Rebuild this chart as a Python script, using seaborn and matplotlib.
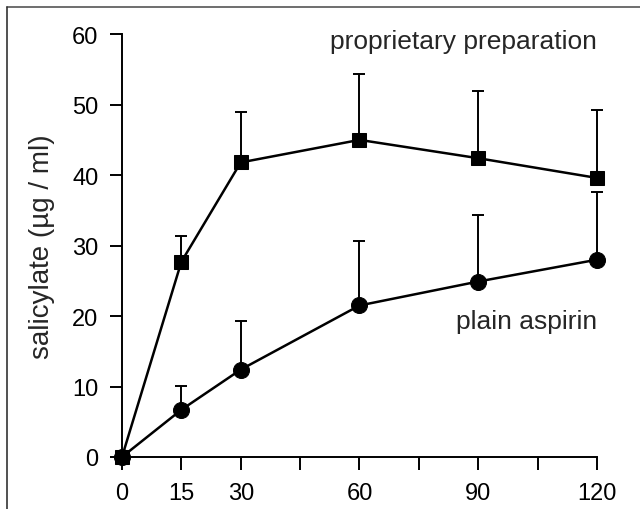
import matplotlib
matplotlib.use("Agg")
import matplotlib.pyplot as plt
import seaborn as sns
import numpy as np
import pandas as pd
from matplotlib.lines import Line2D

time = [0, 15, 30, 60, 90, 120]
prop = [0, 27.7, 41.8, 45.0, 42.4, 39.6]
prop_upper = [0, 31.3, 48.9, 54.3, 51.9, 49.2]
plain = [0, 6.7, 12.4, 21.5, 24.9, 28.0]
plain_upper = [0, 10.1, 19.3, 30.7, 34.3, 37.6]
xticks = [0, 15, 30, 45, 60, 75, 90, 105, 120]
xticklabels = ["0", "15", "30", "", "60", "", "90", "", "120"]
yticks = [0, 10, 20, 30, 40, 50, 60]

sns.set_style("ticks")
plt.rcParams['font.family'] = ['Liberation Sans', 'DejaVu Sans']

fig = plt.figure(figsize=(6.4, 5.1), dpi=100)
ax = fig.add_axes([0.1906, 0.102, 0.7422, 0.829])

df_p = pd.DataFrame({"t": time, "v": prop})
df_a = pd.DataFrame({"t": time, "v": plain})

for vals, upper in [(prop, prop_upper), (plain, plain_upper)]:
    v = np.array(vals)
    up = np.array(upper) - v
    ax.errorbar(time, v, yerr=[np.zeros_like(up), up], fmt='none', ecolor='black',
                elinewidth=1.4, capsize=4.5, capthick=1.4, clip_on=False, zorder=2)

sns.lineplot(data=df_p, x="t", y="v", ax=ax, color='black', marker='s', markersize=10,
             markeredgecolor='black', linewidth=1.8, clip_on=False, zorder=3)
sns.lineplot(data=df_a, x="t", y="v", ax=ax, color='black', marker='o', markersize=11.5,
             markeredgecolor='black', linewidth=1.8, clip_on=False, zorder=3)

ax.set_xlim(0, 120)
ax.set_ylim(0, 60)
ax.set_xticks(xticks)
ax.set_xticklabels(xticklabels)
ax.set_yticks(yticks)
ax.tick_params(axis='both', direction='out', length=9, width=1.4, labelsize=17,
               color='black', labelcolor='black')
ax.tick_params(axis='x', pad=9)
ax.tick_params(axis='y', pad=8)
for s in ['top', 'right']:
    ax.spines[s].set_visible(False)
for s in ['left', 'bottom']:
    ax.spines[s].set_linewidth(1.4)
    ax.spines[s].set_color('black')
ax.set_xlabel("")
ax.set_ylabel("salicylate (µg / ml)", fontsize=20, labelpad=12)

ax.text(86.2, 59.0, "proprietary preparation", fontsize=19, ha='center', va='center')
ax.text(102.3, 19.3, "plain aspirin", fontsize=19, ha='center', va='center')

# outer frame lines (top and left)
fig.add_artist(Line2D([7/640, 1.0], [1 - 8/510, 1 - 8/510], transform=fig.transFigure,
                      color='#555555', linewidth=1.2))
fig.add_artist(Line2D([7/640, 7/640], [0.0, 1 - 8/510], transform=fig.transFigure,
                      color='#333333', linewidth=1.2))

fig.savefig("out.png", dpi=100)
